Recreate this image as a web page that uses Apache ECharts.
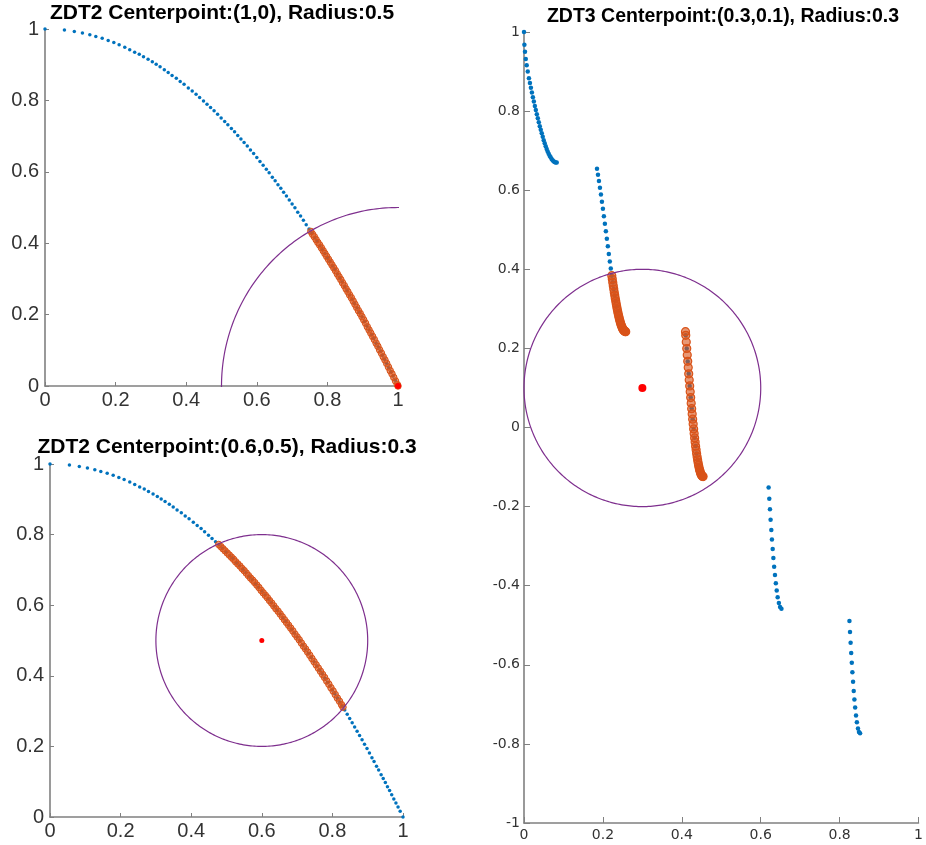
<!DOCTYPE html>
<html><head><meta charset="utf-8">
<script src="https://cdn.jsdelivr.net/npm/echarts@6/dist/echarts.min.js"></script>
<style>html,body{margin:0;padding:0;background:#fff}#c{width:926px;height:845px}</style>
</head><body><div id="c"></div>
<script>
// ---- data ----
const titles = [
  'ZDT2 Centerpoint:(1,0), Radius:0.5',
  'ZDT2 Centerpoint:(0.6,0.5), Radius:0.3',
  'ZDT3 Centerpoint:(0.3,0.1), Radius:0.3'
];
const centerA = [1, 0], radiusA = 0.5;
const centerB = [0.6, 0.5], radiusB = 0.3;
const centerC = [0.3, 0.1], radiusC = 0.3;

const zdt2Front = [[0,1],[0.055,0.997],[0.083,0.993],[0.106,0.989],[0.127,0.984],[0.144,0.979],[0.162,0.974],[0.179,0.968],[0.195,0.962],[0.21,0.956],[0.226,0.949],[0.24,0.942],[0.254,0.935],[0.267,0.929],[0.279,0.922],[0.292,0.915],[0.304,0.908],[0.315,0.901],[0.326,0.894],[0.338,0.886],[0.349,0.878],[0.36,0.87],[0.372,0.862],[0.383,0.853],[0.394,0.845],[0.406,0.835],[0.417,0.826],[0.428,0.817],[0.438,0.808],[0.449,0.798],[0.459,0.789],[0.469,0.78],[0.479,0.771],[0.489,0.761],[0.499,0.751],[0.509,0.741],[0.518,0.732],[0.528,0.721],[0.537,0.712],[0.546,0.702],[0.555,0.692],[0.564,0.682],[0.573,0.672],[0.582,0.661],[0.591,0.651],[0.6,0.64],[0.609,0.629],[0.618,0.618],[0.627,0.607],[0.635,0.597],[0.644,0.585],[0.652,0.575],[0.66,0.564],[0.668,0.554],[0.676,0.543],[0.684,0.532],[0.692,0.521],[0.7,0.51],[0.708,0.499],[0.716,0.487],[0.724,0.476],[0.732,0.464],[0.74,0.452],[0.748,0.44],[0.756,0.428],[0.764,0.416],[0.771,0.406],[0.779,0.393],[0.786,0.382],[0.793,0.371],[0.8,0.36],[0.807,0.349],[0.814,0.337],[0.821,0.326],[0.828,0.314],[0.835,0.303],[0.842,0.291],[0.849,0.279],[0.856,0.267],[0.863,0.255],[0.87,0.243],[0.877,0.231],[0.884,0.219],[0.891,0.206],[0.898,0.194],[0.905,0.181],[0.912,0.168],[0.918,0.157],[0.925,0.144],[0.931,0.133],[0.938,0.12],[0.944,0.109],[0.95,0.098],[0.956,0.086],[0.962,0.075],[0.968,0.063],[0.974,0.051],[0.98,0.04],[0.986,0.028],[0.992,0.016],[1,0]];

const zdt2InA = [[0.753,0.433],[0.758,0.425],[0.763,0.418],[0.768,0.41],[0.773,0.402],[0.778,0.395],[0.783,0.387],[0.788,0.379],[0.793,0.371],[0.798,0.363],[0.803,0.355],[0.808,0.347],[0.813,0.339],[0.818,0.331],[0.823,0.323],[0.828,0.314],[0.833,0.306],[0.838,0.298],[0.843,0.289],[0.848,0.281],[0.853,0.272],[0.858,0.264],[0.863,0.255],[0.868,0.247],[0.873,0.238],[0.878,0.229],[0.883,0.22],[0.888,0.211],[0.893,0.203],[0.898,0.194],[0.903,0.185],[0.908,0.176],[0.913,0.166],[0.918,0.157],[0.923,0.148],[0.928,0.139],[0.933,0.13],[0.938,0.12],[0.943,0.111],[0.948,0.101],[0.953,0.092],[0.958,0.082],[0.963,0.073],[0.968,0.063],[0.973,0.053],[0.978,0.043],[0.983,0.034],[0.988,0.024],[0.993,0.014],[0.998,0.004],[1,0]];

const zdt2InB = [[0.478,0.772],[0.484,0.766],[0.49,0.76],[0.496,0.754],[0.502,0.748],[0.508,0.742],[0.514,0.736],[0.52,0.73],[0.526,0.723],[0.532,0.717],[0.538,0.711],[0.544,0.704],[0.55,0.698],[0.556,0.691],[0.562,0.684],[0.568,0.677],[0.574,0.671],[0.58,0.664],[0.586,0.657],[0.592,0.65],[0.598,0.642],[0.604,0.635],[0.61,0.628],[0.616,0.621],[0.622,0.613],[0.628,0.606],[0.634,0.598],[0.64,0.59],[0.646,0.583],[0.652,0.575],[0.658,0.567],[0.664,0.559],[0.67,0.551],[0.676,0.543],[0.682,0.535],[0.688,0.527],[0.694,0.518],[0.7,0.51],[0.706,0.502],[0.712,0.493],[0.718,0.484],[0.724,0.476],[0.73,0.467],[0.736,0.458],[0.742,0.449],[0.748,0.44],[0.754,0.431],[0.76,0.422],[0.766,0.413],[0.772,0.404],[0.778,0.395],[0.784,0.385],[0.79,0.376],[0.796,0.366],[0.802,0.357],[0.808,0.347],[0.814,0.337],[0.82,0.328],[0.826,0.318],[0.83,0.311]];

const zdt3Front = [[0,1],[0.001,0.968],[0.0025,0.95],[0.0045,0.932],[0.0068,0.916],[0.0095,0.9],[0.0125,0.883],[0.015,0.871],[0.0175,0.859],[0.02,0.847],[0.0225,0.835],[0.025,0.824],[0.0275,0.813],[0.03,0.803],[0.0325,0.792],[0.035,0.782],[0.0375,0.772],[0.04,0.762],[0.0425,0.753],[0.045,0.744],[0.0475,0.735],[0.05,0.726],[0.0525,0.719],[0.055,0.711],[0.0575,0.704],[0.06,0.698],[0.0625,0.692],[0.065,0.687],[0.0675,0.683],[0.07,0.679],[0.0725,0.676],[0.075,0.673],[0.0775,0.671],[0.08,0.67],[0.083,0.67],
[0.185,0.654],[0.1875,0.639],[0.19,0.623],[0.1925,0.606],[0.195,0.589],[0.1975,0.571],[0.2,0.553],[0.2025,0.534],[0.205,0.515],[0.2075,0.496],[0.21,0.477],[0.2125,0.458],[0.215,0.439],[0.2175,0.42],[0.22,0.402],[0.2225,0.384],[0.225,0.367],[0.2275,0.35],[0.23,0.334],[0.2325,0.32],[0.235,0.306],[0.2375,0.293],[0.24,0.282],[0.2425,0.272],[0.245,0.263],[0.2475,0.256],[0.25,0.25],[0.2525,0.246],[0.255,0.243],[0.2578,0.242],
[0.41,0.233],[0.4125,0.2],[0.415,0.167],[0.4175,0.136],[0.42,0.105],[0.4225,0.076],[0.425,0.048],[0.4275,0.021],[0.43,-0.004],[0.4325,-0.026],[0.435,-0.047],[0.4375,-0.066],[0.44,-0.082],[0.4425,-0.096],[0.445,-0.107],[0.4475,-0.115],[0.45,-0.121],[0.4525,-0.124],
[0.62,-0.152],[0.6217,-0.18],[0.6234,-0.207],[0.625,-0.233],[0.6268,-0.259],[0.6284,-0.283],[0.6303,-0.307],[0.6321,-0.33],[0.634,-0.352],[0.6361,-0.373],[0.6383,-0.394],[0.6405,-0.412],[0.6429,-0.429],[0.646,-0.444],[0.649,-0.454],[0.6525,-0.458],
[0.8248,-0.489],[0.8263,-0.517],[0.8278,-0.544],[0.8293,-0.57],[0.8308,-0.595],[0.8323,-0.619],[0.834,-0.643],[0.8357,-0.666],[0.8374,-0.688],[0.8393,-0.708],[0.8415,-0.728],[0.8437,-0.745],[0.8465,-0.761],[0.849,-0.77],[0.8518,-0.773]];

const zdt3InC = [[0.2225,0.3838],[0.22375,0.3752],[0.225,0.3666],[0.22625,0.3583],[0.2275,0.35],[0.22875,0.3421],[0.23,0.3343],[0.23125,0.3269],[0.2325,0.3196],[0.23375,0.3127],[0.235,0.3058],[0.23625,0.2995],[0.2375,0.2933],[0.23875,0.2875],[0.24,0.2818],[0.24125,0.2768],[0.2425,0.2718],[0.24375,0.2674],[0.245,0.263],[0.24625,0.2594],[0.2475,0.2558],[0.24875,0.2529],[0.25,0.25],[0.25125,0.2479],[0.2525,0.2458],[0.25375,0.2444],[0.255,0.2431],[0.2565,0.2425],[0.2578,0.2422],
[0.4093,0.2423],[0.41,0.233],[0.41125,0.2164],[0.4125,0.1998],[0.41375,0.1836],[0.415,0.1674],[0.41625,0.1516],[0.4175,0.1358],[0.41875,0.1204],[0.42,0.105],[0.42125,0.0903],[0.4225,0.0756],[0.42375,0.0616],[0.425,0.0476],[0.42625,0.0344],[0.4275,0.0211],[0.42875,0.0088],[0.43,-0.0036],[0.43125,-0.015],[0.4325,-0.0263],[0.43375,-0.0367],[0.435,-0.0471],[0.43625,-0.0564],[0.4375,-0.0656],[0.43875,-0.0737],[0.44,-0.0818],[0.44125,-0.0887],[0.4425,-0.0955],[0.44375,-0.1011],[0.445,-0.1066],[0.44625,-0.1109],[0.4475,-0.1151],[0.44875,-0.118],[0.45,-0.1208],[0.45125,-0.1223],[0.4525,-0.1238],[0.4539,-0.1242]];

// ---- styles ----
const BLUE = '#0072BD', ORANGE = '#D95319', PURPLE = '#7E2F8E', RED = '#FF0000';
const AXIS_COLOR = '#808080', LABEL_COLOR = '#333333';

function makeAxis(gi, min, max, font, fs, margin, tickLen) {
  return {
    type: 'value', gridIndex: gi, min: min, max: max, interval: 0.2,
    axisLine: { show: true, onZero: false, lineStyle: { color: AXIS_COLOR, width: 1.6 } },
    axisTick: { show: true, inside: true, length: tickLen, lineStyle: { color: AXIS_COLOR, width: 1 } },
    splitLine: { show: false },
    axisLabel: { fontFamily: font, fontSize: fs, color: LABEL_COLOR, margin: margin, showMinLabel: true, showMaxLabel: true }
  };
}

function circleSeries(gi, center, radius) {
  return {
    type: 'custom', xAxisIndex: gi, yAxisIndex: gi, z: 4, silent: true, animation: false,
    data: [[center[0], center[1], radius]],
    renderItem: function (params, api) {
      const cx = api.value(0), cy = api.value(1), r = api.value(2);
      const pts = [];
      for (let a = 0; a <= 360; a += 1) {
        const t = a * Math.PI / 180;
        pts.push(api.coord([cx + r * Math.cos(t), cy + r * Math.sin(t)]));
      }
      const cs = params.coordSys;
      return {
        type: 'polyline', shape: { points: pts },
        style: { stroke: PURPLE, fill: null, lineWidth: 1.2 },
        clipPath: { type: 'rect', shape: { x: cs.x - 1, y: cs.y - 1, width: cs.width + 2, height: cs.height + 2 } }
      };
    }
  };
}

function frontSeries(gi, data, size) {
  return { type: 'scatter', xAxisIndex: gi, yAxisIndex: gi, data: data, symbolSize: size, clip: false, z: 2,
    itemStyle: { color: BLUE, opacity: 1 }, silent: true, animation: false };
}
function insideSeries(gi, data, size, bw) {
  return { type: 'scatter', xAxisIndex: gi, yAxisIndex: gi, data: data, symbolSize: size, clip: false, z: 3,
    itemStyle: { color: 'rgba(217,83,25,0.6)', borderColor: ORANGE, borderWidth: bw, opacity: 1 }, silent: true, animation: false };
}
function centerSeries(gi, c, size) {
  return { type: 'scatter', xAxisIndex: gi, yAxisIndex: gi, data: [c], symbolSize: size, clip: false, z: 5,
    itemStyle: { color: RED, opacity: 1 }, silent: true, animation: false };
}

const LEFT_FONT = '"Liberation Sans", Arial, Helvetica, sans-serif';
const RIGHT_FONT = '"DejaVu Sans", sans-serif';

const chart = echarts.init(document.getElementById('c'));
chart.setOption({
  backgroundColor: '#ffffff',
  animation: false,
  grid: [
    { left: 45, top: 29, width: 353, height: 357 },
    { left: 50, top: 464, width: 353, height: 353 },
    { left: 524, top: 32, width: 397, height: 791 }
  ],
  xAxis: [
    makeAxis(0, 0, 1, LEFT_FONT, 20, 4, 4),
    makeAxis(1, 0, 1, LEFT_FONT, 20, 4, 4),
    makeAxis(2, 0, 1, RIGHT_FONT, 14, 5, 6)
  ],
  yAxis: [
    makeAxis(0, 0, 1, LEFT_FONT, 20, 6, 4),
    makeAxis(1, 0, 1, LEFT_FONT, 20, 6, 4),
    makeAxis(2, -1, 1, RIGHT_FONT, 14, 4, 6)
  ],
  graphic: [
    { type: 'text', x: 222, y: 13, silent: true, style: { text: titles[0], textAlign: 'center', textVerticalAlign: 'middle', font: 'bold 21px ' + LEFT_FONT, fill: '#000' } },
    { type: 'text', x: 227, y: 447, silent: true, style: { text: titles[1], textAlign: 'center', textVerticalAlign: 'middle', font: 'bold 21px ' + LEFT_FONT, fill: '#000' } },
    { type: 'text', x: 723, y: 17, silent: true, style: { text: titles[2], textAlign: 'center', textVerticalAlign: 'middle', font: 'bold 19.5px ' + LEFT_FONT, fill: '#000' } }
  ],
  series: [
    frontSeries(0, zdt2Front, 3.5),
    insideSeries(0, zdt2InA, 6.5, 1),
    circleSeries(0, centerA, radiusA),
    centerSeries(0, centerA, 6),

    frontSeries(1, zdt2Front, 3.5),
    insideSeries(1, zdt2InB, 6.5, 1),
    circleSeries(1, centerB, radiusB),
    centerSeries(1, centerB, 5),

    frontSeries(2, zdt3Front, 4.5),
    insideSeries(2, zdt3InC, 8, 1.2),
    circleSeries(2, centerC, radiusC),
    centerSeries(2, centerC, 8)
  ]
});
</script>
</body></html>
